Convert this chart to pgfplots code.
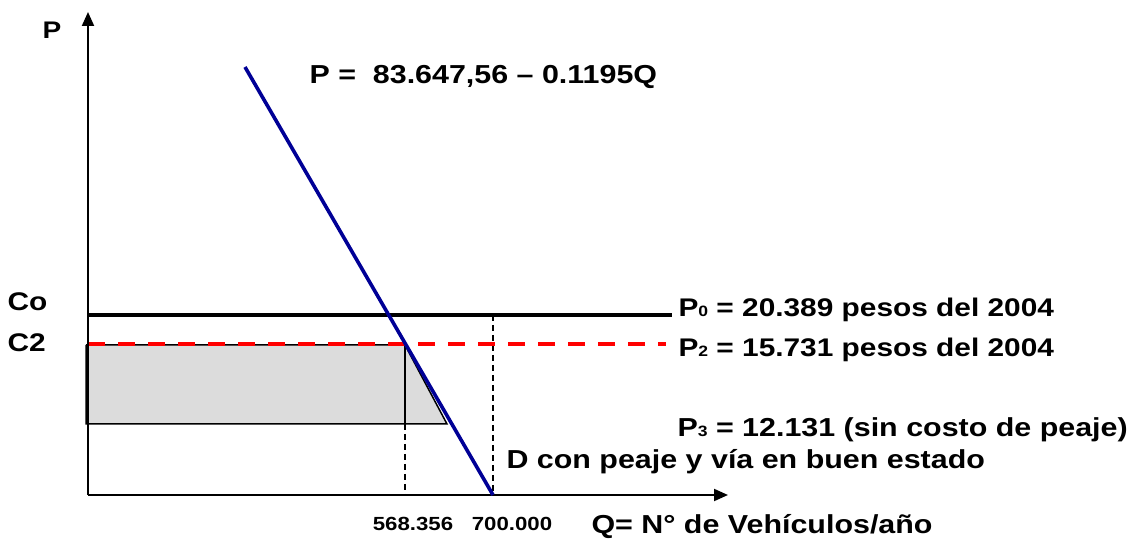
\documentclass[border=0pt]{standalone}
\usepackage{pgfplots}
\pgfplotsset{compat=1.18}
\usepackage{fontspec}
\setmainfont[FakeStretch=1.17]{Liberation Sans}
\usetikzlibrary{arrows.meta}
\definecolor{demand}{RGB}{0,0,150}
\definecolor{shade}{RGB}{220,220,220}
\newcommand{\bigfont}{\fontsize{25.5}{30}\selectfont\bfseries}
\newcommand{\sub}[1]{{\fontsize{15}{15}\selectfont #1}}
\begin{document}
\begin{tikzpicture}[x=1pt,y=1pt]
\path[use as bounding box] (0,0) rectangle (1139,543);
\begin{axis}[
  at={(0,0)}, anchor=origin,
  scale only axis, width=1139pt, height=543pt,
  xmin=0, xmax=1139, ymin=0, ymax=543,
  hide axis, clip=false,
]
% shaded area (surplus)
\addplot[draw=black, line width=1.5pt, fill=shade] coordinates {(86,198) (405,198) (447,119) (86,119) (86,198)};
\addplot[black, line width=1.5pt] coordinates {(405,198) (405,119)};
% dashed verticals
\addplot[black, line width=1.2pt, dash pattern=on 6pt off 4pt] coordinates {(405,119) (405,49)};
\addplot[black, line width=1.2pt, dash pattern=on 6pt off 4pt] coordinates {(493,228) (493,49)};
% P0 line
\addplot[black, line width=4.5pt] coordinates {(88,228) (672,228)};
% P2 dashed line
\addplot[red, line width=4.5pt, dash pattern=on 17pt off 13pt] coordinates {(88,199) (666,199)};
% axes
\addplot[black, line width=2pt, -{Triangle[length=14pt,width=12pt]}] coordinates {(88,48) (88,531)};
\addplot[black, line width=2pt, -{Triangle[length=14pt,width=12pt]}] coordinates {(88,48) (728,48)};
% demand
\addplot[demand, line width=3.6pt] coordinates {(245,476) (493,48)};
% labels
\node[anchor=center, font=\fontsize{24}{28}\selectfont\bfseries] at (axis cs:52,513) {P};
\node[anchor=west, font=\fontsize{26}{30}\selectfont\bfseries] at (axis cs:306,466) {P =\ \ 83.647,56 -- 0.1195Q};
\node[anchor=west, font=\bigfont] at (axis cs:4,241) {Co};
\node[anchor=west, font=\bigfont] at (axis cs:4,200) {C2};
\node[anchor=west, font=\bigfont] at (axis cs:675,233) {P\sub{0} = 20.389 pesos del 2004};
\node[anchor=west, font=\bigfont] at (axis cs:675,193) {P\sub{2} = 15.731 pesos del 2004};
\node[anchor=west, font=\fontsize{26}{30}\selectfont\bfseries] at (axis cs:674,113) {P\sub{3} = 12.131 (sin costo de peaje)};
\node[anchor=west, font=\fontsize{26}{30}\selectfont\bfseries] at (axis cs:503,81) {D con peaje y vía en buen estado};
\node[anchor=center, font=\fontsize{19}{22}\selectfont\bfseries] at (axis cs:413,19) {568.356};
\node[anchor=center, font=\fontsize{19}{22}\selectfont\bfseries] at (axis cs:512,19) {700.000};
\node[anchor=west, font=\fontsize{26}{30}\selectfont\bfseries] at (axis cs:588,16) {Q= N° de Vehículos/año};
\end{axis}
\end{tikzpicture}
\end{document}
